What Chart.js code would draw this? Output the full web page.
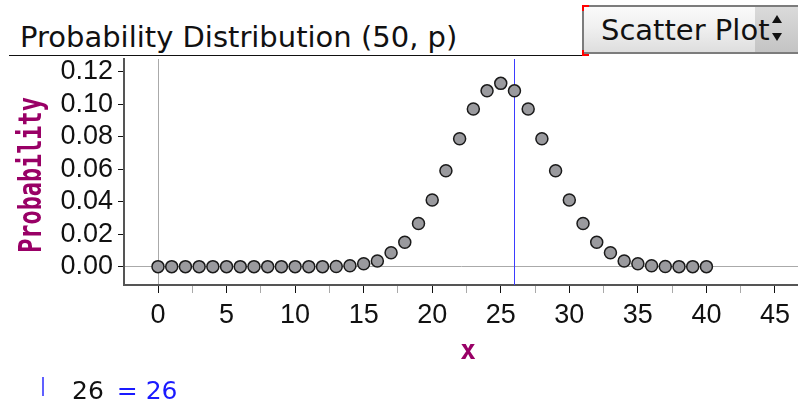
<!DOCTYPE html>
<html>
<head>
<meta charset="utf-8">
<script src="https://cdn.jsdelivr.net/npm/chart.js@4.4.0/dist/chart.umd.min.js"></script>
<style>
  body { margin: 0; background: #fff; width: 798px; height: 406px; overflow: hidden; position: relative; font-family: "DejaVu Sans", sans-serif; }
  #wrap { position: absolute; left: 0; top: 0; width: 798px; height: 406px; }
  #title { position: absolute; left: 20px; top: 20px; font-size: 29px; line-height: normal; color: #111; white-space: nowrap; }
  #rule { position: absolute; left: 9px; top: 55px; width: 574px; height: 0; border-top: 1.5px solid #111; }
  #drop { position: absolute; left: 582px; top: 5px; width: 216px; height: 49px; border: 2px solid #7c7c7c; border-right: none;
          background: linear-gradient(#fafafa, #f0f0f0 45%, #dedede); box-sizing: border-box; }
  #spin { position: absolute; left: 755px; top: 7px; width: 43px; height: 45px; background: linear-gradient(#dadada, #c4c4c4); }
  #spin .up, #spin .dn { position: absolute; left: 17px; width: 0; height: 0; border-left: 5px solid transparent; border-right: 5px solid transparent; }
  #spin .up { top: 8px; border-bottom: 8px solid #111; }
  #spin .dn { top: 26px; border-top: 8px solid #111; }
  #droptxt { position: absolute; left: 601px; top: 13px; font-size: 29px; line-height: normal; color: #111; white-space: nowrap; }
  .rc { position: absolute; background: #f00; }
  #bar { position: absolute; left: 42px; top: 377px; width: 2px; height: 19px; background: #6060ff; }
  #val { position: absolute; left: 72px; top: 376px; font-size: 25px; line-height: normal; color: #111; white-space: nowrap; }
  #val b { font-weight: normal; color: #1a1aff; margin-left: 13px; }
</style>
</head>
<body>
<div id="title">Probability Distribution (50, p)</div>
<div id="rule"></div>
<div id="drop"></div>
<div id="spin"><div class="up"></div><div class="dn"></div></div>
<div id="droptxt">Scatter Plot</div>
<div class="rc" style="left:582px;top:5px;width:7px;height:2px"></div>
<div class="rc" style="left:582px;top:5px;width:2px;height:6px"></div>
<div class="rc" style="left:582px;top:54px;width:7px;height:2px"></div>
<div class="rc" style="left:582px;top:50px;width:2px;height:6px"></div>
<div id="wrap"><canvas id="chart" width="798" height="406"></canvas></div>
<div id="bar"></div>
<div id="val">26<b>= 26</b></div>
<script>
// x values 0..40 and probabilities
const xValues = [0,1,2,3,4,5,6,7,8,9,10,11,12,13,14,15,16,17,18,19,20,
  21,22,23,24,25,26,27,28,29,30,31,32,33,34,35,36,37,38,39,40];
const probs = [0,0,0,0,0,0,0,0,0,0,0,0,0,0.0001,0.0005,0.0018,0.0035,0.0085,0.015,0.0265,0.041,
  0.059,0.0787,0.097,0.1082,0.1128,0.1082,0.097,0.0787,0.059,0.041,0.0265,0.015,0.0085,0.0035,0.0018,0.0005,0.0001,0,0,0];
const xTicks = [0,2.5,5,7.5,10,12.5,15,17.5,20,22.5,25,27.5,30,32.5,35,37.5,40,42.5,45];
const yTicks = [0,0.02,0.04,0.06,0.08,0.10,0.12];
const markerX = 26;
const xTitle = "x";
const yTitle = "Probability";

const points = xValues.map((x, i) => ({ x: x, y: probs[i] }));

const tickFont = { family: "'Liberation Sans', Arial, sans-serif", size: 27 };
const purple = "#990066";

//vertical blue line at the selected value + the tall axis titles
const extras = {
  id: "extras",
  beforeDatasetsDraw(chart) {
    const { ctx, chartArea, scales } = chart;
    const px = Math.round(scales.x.getPixelForValue(markerX)) + 0.5;
    ctx.save();
    ctx.strokeStyle = "#3b3bff";
    ctx.lineWidth = 1;
    ctx.beginPath();
    ctx.moveTo(px, chartArea.top);
    ctx.lineTo(px, chartArea.bottom);
    ctx.stroke();
    ctx.restore();
  },
  afterDraw(chart) {
    const { ctx, chartArea } = chart;
    ctx.save();
    ctx.fillStyle = purple;
    ctx.textAlign = "center";
    ctx.textBaseline = "middle";
    // y title: rotated, stretched across the reading direction
    ctx.save();
    ctx.translate(33, (chartArea.top + chartArea.bottom) / 2 + 3);
    ctx.rotate(-Math.PI / 2);
    ctx.scale(1, 1.35);
    ctx.font = "bold 23.5px 'DejaVu Sans Mono', monospace";
    ctx.fillText(yTitle, 0, 0);
    ctx.restore();
    // x title
    ctx.font = "bold 26px 'DejaVu Sans Mono', monospace";
    ctx.fillText(xTitle, (chartArea.left + chartArea.right) / 2 + 7, 352);
    ctx.restore();
  },
};

new Chart(document.getElementById("chart"), {
  type: "scatter",
  plugins: [extras],
  data: {
    datasets: [{
      data: points,
      pointRadius: 6,
      pointHoverRadius: 6,
      pointBackgroundColor: "#9a9a9e",
      pointBorderColor: "#1a1a1a",
      pointBorderWidth: 1.5,
    }],
  },
  options: {
    responsive: false,
    animation: false,
    layout: { autoPadding: false, padding: { top: 59, left: 0, right: 0, bottom: 0 } },
    plugins: { legend: { display: false }, tooltip: { enabled: false } },
    scales: {
      x: {
        type: "linear",
        min: -2.48,
        max: 46.68,
        afterBuildTicks: (scale) => { scale.ticks = xTicks.map((v) => ({ value: v })); },
        afterFit: (scale) => { scale.height = 121; scale.paddingLeft = 0; scale.paddingRight = 0; },
        border: { color: "#555", width: 2 },
        grid: {
          drawOnChartArea: true,
          color: (c) => (c.tick && c.tick.value === 0 ? "#aaa" : "rgba(0,0,0,0)"),
          tickColor: (c) => (c.tick && c.tick.value % 5 === 0 ? "#111" : "#aaa"),
          tickLength: 8,
          lineWidth: 1,
        },
        ticks: {
          autoSkip: false,
          maxRotation: 0,
          padding: 6,
          color: "#111",
          font: tickFont,
          callback: (v) => (v % 5 === 0 ? String(v) : ""),
        },
      },
      y: {
        type: "linear",
        min: -0.0113,
        max: 0.1278,
        afterBuildTicks: (scale) => { scale.ticks = yTicks.map((v) => ({ value: v })); },
        afterFit: (scale) => { scale.width = 124; scale.paddingTop = 0; scale.paddingBottom = 0; },
        border: { color: "#555", width: 2 },
        grid: {
          color: (c) => (c.tick && c.tick.value === 0 ? "#aaa" : "rgba(0,0,0,0)"),
          tickColor: "#111",
          tickLength: 6,
          lineWidth: 1,
        },
        ticks: {
          padding: 5,
          color: "#111",
          font: tickFont,
          callback: (v) => v.toFixed(2),
        },
      },
    },
  },
});
</script>
</body>
</html>
